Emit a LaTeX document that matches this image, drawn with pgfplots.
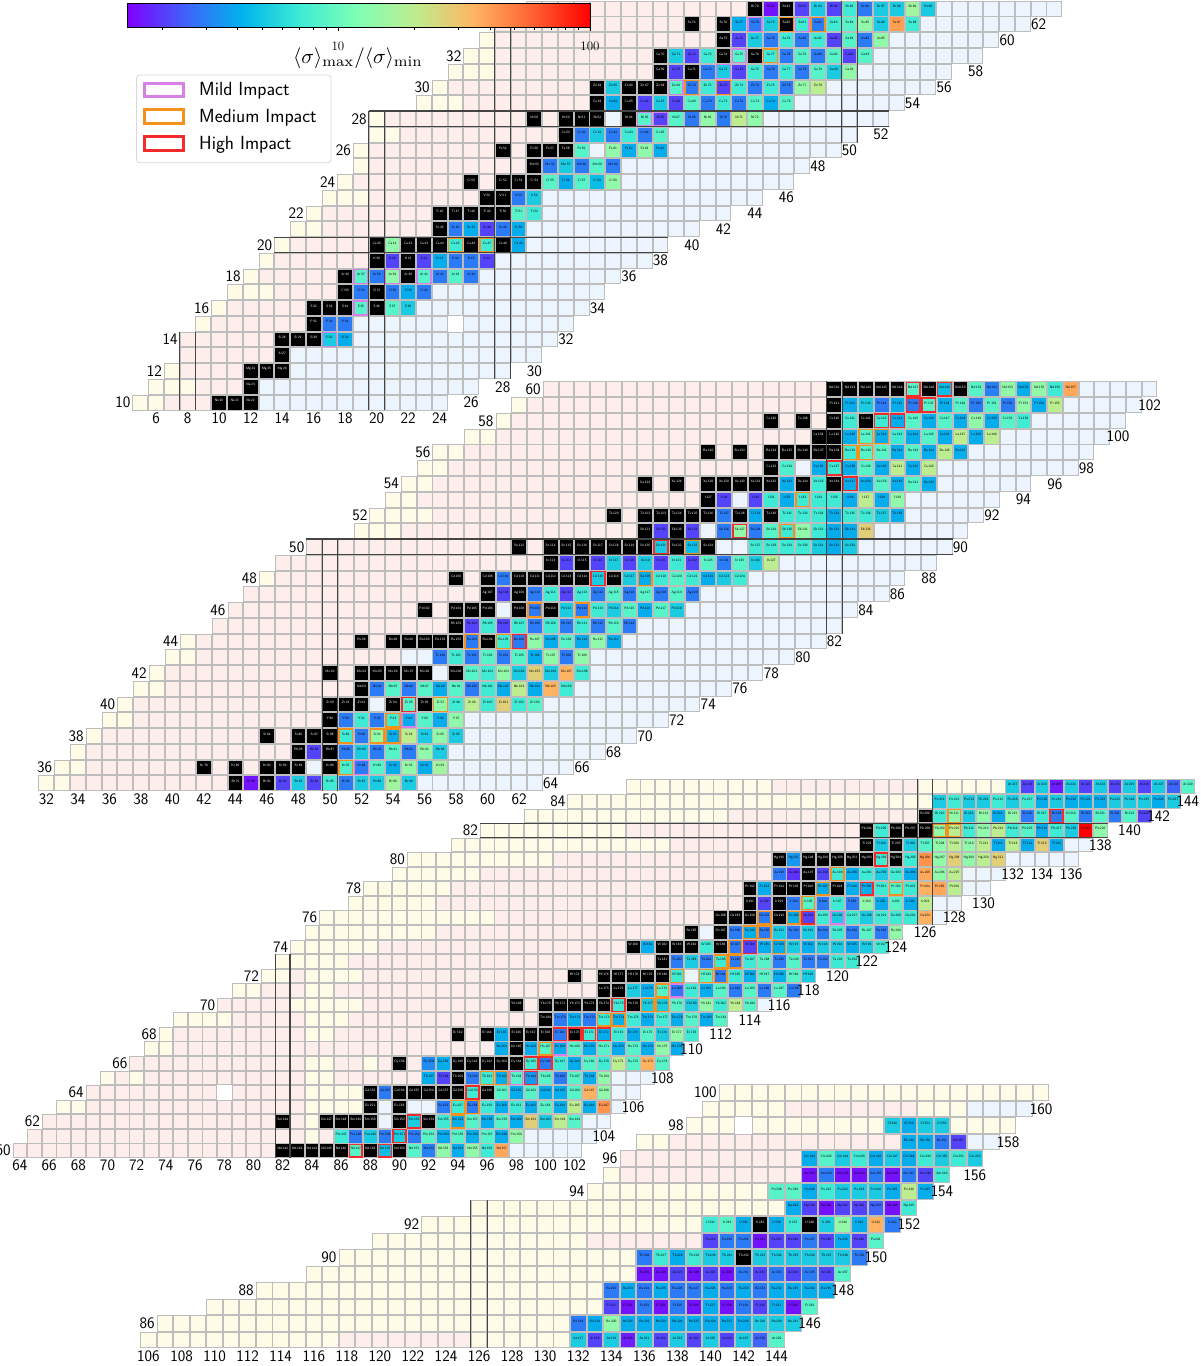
\documentclass[border=0pt]{standalone}
\usepackage{fontspec}
\usepackage{pgfplots}
\pgfplotsset{compat=1.18}
\definecolor{cg}{HTML}{BDBDBD}
\definecolor{cy}{HTML}{FEFBE6}
\definecolor{cp}{HTML}{FDEEEC}
\definecolor{cw}{HTML}{ECF4FD}
\definecolor{mag}{HTML}{444444}
\definecolor{mild}{HTML}{D87FE8}
\definecolor{med}{HTML}{F5921E}
\definecolor{high}{HTML}{F52A2A}
\pgfdeclarehorizontalshading{rb}{100bp}{rgb(0bp)=(.5,0,1);rgb(25bp)=(.5,0,1);rgb(31.25bp)=(.25,.383,.981);rgb(37.5bp)=(0,.707,.924);rgb(43.75bp)=(.25,.924,.831);rgb(50bp)=(.5,1,.707);rgb(56.25bp)=(.75,.924,.556);rgb(62.5bp)=(1,.707,.383);rgb(68.75bp)=(1,.383,.195);rgb(75bp)=(1,0,0);rgb(100bp)=(1,0,0)}
\def\hs{7.4}\def\hsb{6.9}
\pgfdeclareplotmark{cell}{\pgfpathrectanglecorners{\pgfqpoint{-\hs pt}{-\hs pt}}{\pgfqpoint{\hs pt}{\hs pt}}\pgfusepathqfillstroke}
\pgfdeclareplotmark{cellb}{\pgfpathrectanglecorners{\pgfqpoint{-\hsb pt}{-\hsb pt}}{\pgfqpoint{\hsb pt}{\hsb pt}}\pgfusepathqstroke}
\foreach \e [count=\i from 10] in {Ne,Na,Mg,Al,Si,P,S,Cl,Ar,K,Ca,Sc,Ti,V,Cr,Mn,Fe,Co,Ni,Cu,Zn,Ga,Ge,As,Se,Br,Kr,Rb,Sr,Y,Zr,Nb,Mo,Tc,Ru,Rh,Pd,Ag,Cd,In,Sn,Sb,Te,I,Xe,Cs,Ba,La,Ce,Pr,Nd,Pm,Sm,Eu,Gd,Tb,Dy,Ho,Er,Tm,Yb,Lu,Hf,Ta,W,Re,Os,Ir,Pt,Au,Hg,Tl,Pb,Bi,Po,At,Rn,Fr,Ra,Ac,Th,Pa,U,Np,Pu,Am,Cm,Bk,Cf,Es,Fm}{\expandafter\xdef\csname el\i\endcsname{\e}}
\def\celltext{\pgfmathtruncatemacro\zz{round(\Zv)}\pgfmathtruncatemacro\aa{round(\Nv+\Zv)}\csname el\zz\endcsname\,\aa}
\pgfplotsset{
 cellvis/.style={visualization depends on={x \as \Nv},visualization depends on={y \as \Zv},
  nodes near coords align=center,
  every node near coord/.append style={font=\sffamily\fontsize{3.4}{3.4}\selectfont,inner sep=0pt,anchor=center,yshift=2pt,text=#1}},
 bgy/.style={only marks,mark=cell,mark options={draw=cg,fill=cy,line width=.9pt}},
 bgp/.style={only marks,mark=cell,mark options={draw=cg,fill=cp,line width=.9pt}},
 bgw/.style={only marks,mark=cell,mark options={draw=cg,fill=cw,line width=.9pt}},
 xw/.style={only marks,mark=cell,mark options={draw=cg,fill=cw,line width=.9pt}},
 blk/.style={only marks,mark=cell,mark options={draw=cg,fill=black,line width=.9pt},cellvis=white,nodes near coords={\celltext}},
 hol/.style={only marks,mark=cell,mark options={draw=white,fill=white,line width=.9pt}},
 cols/.style={scatter,only marks,mark=cell,point meta=explicit,
  mark options={line width=.9pt},scatter/use mapped color={draw=cg,fill=mapped color},cellvis=black,nodes near coords*={\celltext}},
 bm/.style={only marks,mark=cellb,mark options={draw=#1,line width=1.4pt}},
 magic/.style={line width=1.1pt,color=mag,no markers},
 panel/.style={hide axis,scale only axis,clip=false,anchor=south west,enlargelimits=false,point meta min=0.163,point meta max=2,
  colormap={mplrb}{rgb=(.5,0,1) rgb=(.25,.383,.981) rgb=(0,.707,.924) rgb=(.25,.924,.831) rgb=(.5,1,.707) rgb=(.75,.924,.556) rgb=(1,.707,.383) rgb=(1,.383,.195) rgb=(1,0,0)}},
 p1/.style={panel,at={(61.5pt,884.6pt)},width=1103.2pt,height=551.6pt,xmin=0,xmax=70,ymin=5,ymax=40},
 p2/.style={panel,at={(-64pt,503.9pt)},width=1260.8pt,height=551.6pt,xmin=25,xmax=105,ymin=30,ymax=65},
 p3/.style={panel,at={(-38.5pt,142.5pt)},width=1314pt,height=509.6pt,xmin=60,xmax=150,ymin=55,ymax=90},
 p4/.style={panel,at={(49.3pt,-56.5pt)},width=1074.45pt,height=412.5pt,xmin=100,xmax=165,ymin=80,ymax=105},
}
\tikzset{lab/.style={font=\sffamily\fontsize{16}{16}\selectfont,inner sep=0pt,text=black}}
\newcount\nn
\newcommand\Reset{\gdef\LY{}\gdef\LP{}\gdef\LW{}\gdef\LC{}\gdef\LK{}\gdef\LX{}\gdef\LH{}}
\newcommand\R[5]{\nn=#2\relax\loop
 \ifnum\nn>#3\relax\ifnum\nn>#4\relax\xdef\LW{\LW(\the\nn,#1)}\else\xdef\LP{\LP(\the\nn,#1)}\fi\else\xdef\LY{\LY(\the\nn,#1)}\fi
 \advance\nn by 1\relax\ifnum\nn<\numexpr#5+1\relax\repeat}
\newcommand\C[3]{\global\nn=#2\relax\foreach \v in {#3}{%
 \ifdim\v pt<0pt\relax\ifdim\v pt<-2.5pt\relax\xdef\LH{\LH(\the\nn,#1)}\else\ifdim\v pt<-1.5pt\relax\xdef\LX{\LX(\the\nn,#1)}\fi\fi
 \else\ifdim\v pt=0pt\relax\xdef\LK{\LK(\the\nn,#1)}\else\pgfmathsetmacro\lv{log10(\v)}\xdef\LC{\LC(\the\nn,#1)[\lv]}\fi\fi
 \global\advance\nn by 1\relax}}
\newcommand\plotlist[2]{\edef\tmp{\noexpand\addplot[#1] coordinates {#2};}\tmp}
\newcommand\cells{\plotlist{bgy}{\LY}\plotlist{bgp}{\LP}\plotlist{bgw}{\LW}\plotlist{cols}{\LC}\plotlist{blk}{\LK}\plotlist{xw}{\LX}\plotlist{hol}{\LH}}
\newcommand\xl[2]{\node[lab] at (axis cs:#1,#2) {#1};}
\newcommand\yl[2]{\node[lab,anchor=east] at (axis cs:#2-0.62,#1) {#1};}
\begin{document}
\begin{tikzpicture}[x=1pt,y=1pt]
\useasboundingbox (0,0) rectangle (1200,1366);
% ---------- panel 4
\def\hs{7.8}\def\hsb{7.3}
\Reset
\R{85}{106}{117}{125}{125}\R{85}{126}{144}{144}{144}\R{86}{107}{145}{145}{145}\R{87}{110}{146}{146}{146}\R{88}{113}{147}{147}{147}
\R{89}{116}{148}{148}{148}\R{90}{118}{149}{149}{149}\R{91}{120}{132}{150}{150}\R{92}{123}{151}{151}{151}\R{93}{126}{152}{152}{152}
\R{94}{133}{153}{153}{153}\R{95}{134}{134}{154}{154}\R{96}{135}{134}{156}{156}\R{97}{136}{137}{155}{157}\R{98}{139}{158}{158}{158}
\R{99}{140}{144}{152}{152}\R{99}{153}{155}{155}{159}\R{100}{141}{160}{160}{160}
\C{85}{132}{5.2,2.1,5.2,1.7,5.2,2.1,5.2,2.1,5.2,2.1,5.2,2.5,8.6}
\C{86}{132}{2.9,4,14,4,4,4,4,4,4,4,4,5.2,5.2,5.2}
\C{87}{134}{2.1,1.6,2.9,1.6,2.9,1.6,4,1.6,2.9,2.1,4,1.6,8.6}
\C{88}{134}{2.9,4,2.9,4,2.9,2.9,4,2.9,4,2.9,4,4,4,4}
\C{89}{136}{1.6,1.6,2.1,1.6,2.1,1.6,2.9,2.1,2.9,2.1,2.9,2.1,8.6}
\C{90}{136}{2.9,7.1,4,7.1,5.2,5.2,0,5.2,5.2,5.2,5.2,5.2,5.2,2.9}
\C{91}{140}{2.1,2.9,2.9,1.6,2.1,2.1,2.9,2.1,4,2.1,8.6}
\C{92}{140}{7.1,8.6,4,0,4,7.1,0,5.2,14,4,35,2.9}
\C{93}{145}{4,2.1,1.6,2.1,2.1,2.5,1.6,7.1}
\C{94}{144}{8.6,9,4,7.1,5.2,5.2,5.2,4,20,4}
\C{95}{146}{1.6,2.9,1.6,1.6,2.9,1.6,2.9,2.1,7.1}
\C{96}{146}{4,8.6,5.2,7.1,4,5.2,4,7.1,5.2,7.1,5.2}
\C{97}{152}{4,4,2.9,2.1}
\C{98}{142}{-3}\C{98}{151}{5.2,4,5.2,5.2}
\begin{axis}[p4]
\cells
\end{axis}
\begin{axis}[p4]
\addplot[magic] coordinates {(125.5,84.5)(125.5,93.5)};
\addplot[magic] coordinates {(126.5,84.5)(126.5,93.5)};
\pgfplotsinvokeforeach{106,108,...,144}{\xl{#1}{84}}
\xl{146}{86}\xl{148}{88}\xl{150}{90}\xl{152}{92}\xl{154}{94}\xl{156}{95}\xl{158}{97}\xl{160}{99}
\yl{86}{107}\yl{88}{113}\yl{90}{118}\yl{92}{123}\yl{94}{133}\yl{96}{135}\yl{98}{139}\yl{100}{141}
\end{axis}
% ---------- panel 3
\def\hs{6.85}\def\hsb{6.4}
\Reset
\R{60}{64}{63}{97}{102}\R{61}{65}{64}{83}{83}\R{61}{84}{84}{98}{103}\R{62}{66}{65}{83}{83}\R{62}{84}{84}{102}{104}
\R{63}{67}{68}{83}{83}\R{63}{84}{87}{104}{105}\R{64}{69}{68}{83}{83}\R{64}{84}{87}{104}{106}
\R{65}{70}{70}{71}{71}\R{65}{72}{72}{83}{83}\R{65}{84}{85}{104}{107}\R{66}{72}{71}{83}{83}\R{66}{84}{85}{87}{87}\R{66}{88}{88}{108}{108}
\R{67}{73}{74}{109}{109}\R{68}{74}{74}{83}{83}\R{68}{84}{85}{110}{110}\R{69}{75}{78}{83}{83}\R{69}{84}{86}{112}{112}
\R{70}{78}{77}{82}{82}\R{70}{83}{87}{114}{115}\R{71}{79}{80}{83}{83}\R{71}{84}{85}{117}{117}\R{72}{81}{82}{83}{83}\R{72}{84}{87}{118}{118}
\R{73}{82}{86}{121}{121}\R{74}{83}{88}{123}{123}\R{75}{84}{92}{124}{124}\R{76}{85}{96}{126}{127}\R{77}{87}{92}{126}{128}
\R{78}{88}{93}{128}{130}\R{79}{90}{95}{128}{131}\R{80}{91}{100}{131}{136}\R{81}{94}{108}{135}{137}\R{82}{96}{105}{138}{138}
\R{83}{99}{112}{141}{141}\R{84}{102}{126}{143}{143}\R{85}{106}{115}{125}{125}\R{85}{126}{131}{144}{144}
\C{60}{82}{0,0,0,0,0,8.6,0,4.6,0,8.6,3,14,4,14,7.1,38}
\C{61}{86}{7.1,2.9,5.2,2.9,5.2,2.9,8.6,4,8.6,4,8.6,4,14}
\C{62}{82}{0,-1,-1,0,0,0,0,-2,0,5.2,0,7.1,4,8.6,4,8.6,4,27,5.2,20,8.6}
\C{63}{88}{0,-2,0,-2,-2,2.9,7.1,2.9,7.1,4,7.1,4,8.6,4,20,4,43}
\C{64}{78}{-3}\C{64}{88}{0,2.9,0,0,0,0,0,7.1,0,8.6,4,8.6,4,4,8.6,35,14}
\C{65}{92}{4,2.1,0,2.9,7.1,4,8.6,3.5,8.6,2.9,8.6,4,14}
\C{66}{90}{0,-1,3.2,4,0,0,0,0,0,7.1,2.9,7.1,4,8.6,7.1,20,8.6,35,8.6}
\C{67}{97}{4,0,4,8.6,4,8.6,4,8.6,4,8.6,4,14,4}
\C{68}{94}{0,-1,0,4,0,0,0,2.9,0,7.1,4,7.1,4,8.6,5.2,14,7.1}
\C{69}{100}{0,2.9,4,2.9,7.1,4,7.1,4,7.1,4,8.6,4,8.6}
\C{70}{98}{0,-1,0,0,0,0,0,7.1,0,5.2,5.2,8.6,5.2,14,7.1,20,8.6,-2}
\C{71}{104}{0,0,5.2,4,8.6,2.9,7.1,4,8.6,2.9,8.6,2.9,8.6,2.9}
\C{72}{102}{0,-1,0,0,0,0,0,7.1,-2,8.6,2.9,7.1,4,8.6,4,8.6,5.2}
\C{73}{108}{0,2.9,5.2,2.9,7.1,2.9,7.1,8.6,2.9,8.6,2.9,2.9,7.1,7.1}
\C{74}{106}{0,4,0,0,0,7.1,0,2.9,2.1,4,4,5.2,4,5.2,5.2,4,5.2,7.1}
\C{75}{110}{0,-2,0,2.9,4,2.9,5.2,2.9,5.2,2.9,7.1,2.9,8.6,2.9,14}
\C{76}{112}{0,0,0,2.9,0,4,2.1,7.1,5.2,7.1,5.2,7.1,7.1,7.1,35}
\C{77}{114}{0,2.1,0,2.9,8.6,2.9,7.1,2.9,14,4,8.6,4,20}
\C{78}{114}{0,4,0,0,0,4,0,4,4,7.1,8.6,7.1,35,38,20}
\C{79}{116}{2.9,1.9,0,2.1,7.1,4,7.1,5.2,7.1,4,38,14,20}
\C{80}{116}{0,3.5,0,0,0,0,0,7.1,0,7.1,43,14,27,14,20,27}
\C{81}{122}{0,5.2,0,5.2,8.6,14,20,14,20,4,20,4,27,4}
\C{82}{122}{0,7.1,0,0,0,14,20,7.1,14,20,7.1,8.6,4,7.1,5.2,100,14}
\C{83}{126}{0,7.1,14,5.2,14,4,14,2.9,7.1,2.9,8.6,2.9,8.6,2.9,8.6,2.1}
\C{84}{127}{5.2,7.1,5.2,5.2,7.1,5.2,7.1,4,5.2,4,4,4,5.2,5.2,5.2,4,5.2}
\C{85}{132}{5.2,2.1,5.2,1.7,5.2,2.1,5.2,2.1,5.2,2.1,5.2,2.5,8.6}
\begin{axis}[p3]
\cells
\addplot[bm=mild] coordinates {(98,65)(101,67)(109,71)(120,76)};
\addplot[bm=med] coordinates {(94,62)(94,63)(95,63)(96,65)(97,65)(100,67)(104,69)(105,69)(107,70)(108,70)(108,71)(109,72)(111,72)(112,72)(112,73)(113,73)(113,74)(116,74)(114,75)(115,75)(115,76)(117,76)(118,77)(119,78)(124,78)(120,79)(127,82)(128,82)(128,83)};
\addplot[bm=high] coordinates {(87,60)(89,60)(90,61)(91,62)(95,64)(99,65)(99,66)(100,66)(101,68)(102,68)(103,68)(104,68)(105,70)(114,74)(118,76)(122,78)(123,80)(135,83)};
\end{axis}
\begin{axis}[p3]
\addplot[magic] coordinates {(81.5,59.5)(81.5,73.5)};\addplot[magic] coordinates {(82.5,59.5)(82.5,73.5)};
\addplot[magic] coordinates {(125.5,75.5)(125.5,85.5)};\addplot[magic] coordinates {(126.5,75.5)(126.5,85.5)};
\addplot[magic] coordinates {(95.5,81.5)(138.5,81.5)};\addplot[magic] coordinates {(95.5,82.5)(138.5,82.5)};
\pgfplotsinvokeforeach{64,66,...,102}{\xl{#1}{59}}
\xl{104}{61}\xl{106}{63}\xl{108}{65}\xl{110}{67}\xl{112}{68}\xl{114}{69}\xl{116}{70}\xl{118}{71}\xl{120}{72}\xl{122}{73}\xl{124}{74}\xl{126}{75}\xl{128}{76}\xl{130}{77}\xl{132}{79}\xl{134}{79}\xl{136}{79}\xl{138}{81}\xl{140}{82}\xl{142}{83}\xl{144}{84}
\yl{60}{64}\yl{62}{66}\yl{64}{69}\yl{66}{72}\yl{68}{74}\yl{70}{78}\yl{72}{81}\yl{74}{83}\yl{76}{85}\yl{78}{88}\yl{80}{91}\yl{82}{96}\yl{84}{102}
\end{axis}
% ---------- panel 2
\def\hs{7.4}\def\hsb{6.9}
\Reset
\R{35}{32}{33}{55}{63}\R{36}{33}{34}{57}{65}\R{37}{34}{34}{57}{67}\R{38}{35}{35}{58}{69}\R{39}{36}{37}{58}{71}\R{40}{37}{37}{63}{73}
\R{41}{38}{39}{65}{75}\R{42}{39}{39}{66}{77}\R{43}{40}{41}{66}{79}\R{44}{41}{41}{68}{81}\R{45}{43}{42}{69}{82}\R{46}{44}{43}{72}{83}
\R{47}{45}{44}{73}{85}\R{48}{46}{46}{76}{86}\R{49}{47}{46}{78}{88}\R{50}{49}{48}{83}{89}\R{51}{52}{54}{84}{90}\R{52}{53}{56}{86}{91}
\R{53}{54}{55}{86}{92}\R{54}{55}{56}{88}{94}\R{55}{56}{57}{88}{97}\R{56}{57}{58}{90}{98}\R{57}{59}{60}{92}{99}\R{58}{61}{61}{94}{100}
\R{59}{62}{62}{96}{101}\R{60}{64}{63}{97}{102}
\C{35}{44}{0,1.6,0,2.1,5.2,2.1,7.1,2.9,5.2,5.2,16,5.2}
\C{36}{42}{0,-1,0,-1,0,0,0,-2,0,8,2.9,8.6,4,14,4,16}
\C{37}{48}{0,2.1,0,2.9,5.2,2.9,8.6,2.9,14,5.2}
\C{38}{46}{0,-1,0,0,0,7.1,2.9,14,4,20,5.2,14,5.2}
\C{39}{50}{0,2.9,7.1,2.9,7.1,4,8.6,4,14}
\C{40}{50}{0,0,0,-2,0,8.6,0,14,7.1,20,7.1,27,7.1,8.6}
\C{41}{52}{0,2.9,8.6,2.9,8.6,4,8.6,2.9,7.1,4,20,4,35,7.1}
\C{42}{50}{0,-1,0,0,0,0,0,-2,0,8.6,7.1,14,5.2,27,5.2,35,7.1}
\C{43}{55}{-2,-2,2.9,7.1,2.9,8.6,2.9,8.6,4,14,2.9,14}
\C{44}{52}{0,-1,0,0,0,0,0,2.9,0,7.1,2.9,14,4,8.6,4,14,4}
\C{45}{58}{0,2.1,7.1,2.1,7.1,2.9,7.1,2.9,7.1,2.9,8.6,2.9}
\C{46}{56}{0,-1,0,0,0,-2,0,2.9,0,5.2,2.9,7.1,5.2,8.6,4,8.6,5.2}
\C{47}{60}{0,2.1,0,2.9,7.1,2.1,7.1,2.9,8.6,2.9,8.6,2.9,8.6,2.9}
\C{48}{58}{0,-1,0,2.9,0,0,0,0,0,5.2,0,5.2,4,7.1,8.6,7.1,4,5.2,7.1}
\C{49}{64}{0,2.1,0,2.1,5.2,2.1,5.2,2.1,7.1,2.1,8.6,2.9,8.6,5.2,20}
\C{50}{62}{0,-1,0,0,0,0,0,0,0,5.2,0,4.6,0,-2,-2,7.1,7.1,7.1,7.1,5.2,4,5.2}
\C{51}{70}{0,2.1,0,2.1,-2,2.9,14,2.9,8.6,7.1,14,7.1,4,4,27}
\C{52}{68}{0,-1,0,0,0,0,0,2.9,0,4,0,7.1,7.1,7.1,4,7.1,7.1,5.2,4}
\C{53}{74}{0,2.1,-2,2.1,7.1,4,7.1,7.1,7.1,4,20,4,14}
\C{54}{70}{0,-1,0,-1,0,0,0,0,0,4,0,7.1,0,4,4,8.6,4,8.6,4}
\C{55}{78}{0,8,-2,4,7.1,4,8.6,4,20,4,20}
\C{56}{74}{0,-1,0,-1,0,0,0,0,0,7.1,8.6,8.6,4,8.6,4,20,4}
\C{57}{81}{0,0,4,8.6,4,7.1,4,8.6,4,20,4,20}
\C{58}{78}{0,-1,0,-1,0,7.1,0,7.1,4,8.6,4,8.6,4,14,4,8.6,7.1}
\C{59}{82}{0,4,5.2,2.9,4,2.9,8.6,4,8.6,2.9,8.6,2.9,14,4,20}
\C{60}{82}{0,0,0,0,0,8.6,0,4.6,0,8.6,3,14,4,14,7.1,38}
\begin{axis}[p2]
\cells
\addplot[bm=mild] coordinates {(52,36)(55,39)};
\addplot[bm=med] coordinates {(51,36)(51,38)(53,38)(54,38)(54,39)(57,40)(59,44)(61,44)(63,46)(66,46)(70,48)(73,50)(79,51)(80,53)(83,56)(84,56)(84,57)(85,57)};
\addplot[bm=high] coordinates {(55,40)(62,44)(67,48)(71,50)(76,51)(83,54)(82,55)(85,58)(86,58)(87,59)(88,59)(87,60)(89,60)};
\end{axis}
\begin{axis}[p2]
\addplot[magic] coordinates {(49.5,34.5)(49.5,50.5)};\addplot[magic] coordinates {(50.5,34.5)(50.5,50.5)};
\addplot[magic] coordinates {(81.5,44.5)(81.5,60.5)};\addplot[magic] coordinates {(82.5,44.5)(82.5,60.5)};
\addplot[magic] coordinates {(48.5,49.5)(89.5,49.5)};\addplot[magic] coordinates {(48.5,50.5)(89.5,50.5)};
\pgfplotsinvokeforeach{32,34,...,62}{\xl{#1}{34}}
\xl{64}{35}\xl{66}{36}\xl{68}{37}\xl{70}{38}\xl{72}{39}\xl{74}{40}\xl{76}{41}\xl{78}{42}\xl{80}{43}\xl{82}{44}\xl{84}{46}\xl{86}{47}\xl{88}{48}\xl{90}{50}\xl{92}{52}\xl{94}{53}\xl{96}{54}\xl{98}{55}\xl{100}{57}\xl{102}{59}
\yl{36}{33}\yl{38}{35}\yl{40}{37}\yl{42}{39}\yl{44}{41}\yl{46}{44}\yl{48}{46}\yl{50}{49}\yl{52}{53}\yl{54}{55}\yl{56}{57}\yl{58}{61}\yl{60}{64}
\end{axis}
% ---------- panel 1
\Reset
\R{10}{5}{6}{12}{24}\R{11}{6}{8}{12}{26}\R{12}{7}{7}{14}{28}\R{13}{8}{7}{14}{30}\R{14}{8}{7}{18}{31}\R{15}{9}{9}{18}{32}\R{16}{10}{10}{22}{33}
\R{17}{11}{13}{23}{34}\R{18}{12}{12}{26}{35}\R{19}{13}{13}{26}{37}\R{20}{14}{14}{29}{38}\R{21}{15}{16}{29}{40}\R{22}{16}{16}{30}{42}\R{23}{17}{19}{30}{44}
\R{24}{18}{18}{35}{46}\R{25}{19}{19}{35}{47}\R{26}{19}{19}{38}{49}\R{27}{20}{21}{38}{50}\R{28}{20}{20}{44}{52}\R{29}{23}{25}{46}{53}\R{30}{24}{24}{48}{55}
\R{31}{25}{27}{50}{56}\R{32}{26}{27}{51}{58}\R{33}{27}{27}{52}{59}\R{34}{28}{27}{54}{61}\R{35}{30}{29}{55}{63}
\C{10}{10}{0,0,0}\C{11}{12}{0}\C{12}{12}{0,0,0}\C{13}{14}{0}\C{14}{14}{0,0,0,5.2,4}
\C{15}{16}{0,2.9,2.9}\C{15}{25}{-3}
\C{16}{16}{0,0,0,8.6,0,8.6,5.2}
\C{17}{18}{0,2.9,0,2.9,4,2.9}
\C{18}{18}{0,8.6,2.9,14,0,8.6,2.9,8.6,2.9}
\C{19}{20}{0,2.1,0,2.1,4,2.9,2.9,2.1}
\C{20}{20}{0,14,0,0,0,7.1,0,7.1,0,4}
\C{21}{24}{0,2.9,4,2.1,2.9,4}
\C{22}{24}{0,0,0,0,0,8.6,7.1}
\C{23}{27}{0,0,2.9,5.2}
\C{24}{26}{0,-1,0,0,0,8.6,4,8.6,4.6,14}
\C{25}{30}{0,2.9,5.2,2.9,8.6,2.9}
\C{26}{28}{0,-1,0,0,0,8.6,-2,14,4,14,4}
\C{27}{32}{0,2.9,5.2,2.9,7.1,2.9,8.6}
\C{28}{30}{0,-1,0,0,0,-2,0,8.6,2.1,8.6,2.9,14,2.9,20,14}
\C{29}{34}{0,4,0,2.1,5.2,2.1,8.6,2.9,7.1,2.9,8.6,4,8.6}
\C{30}{34}{0,5.2,0,0,0,8.6,2.9,7.1,2.1,7.1,2.9,7.1,2.9,14,20}
\C{31}{38}{0,2.1,0,2.9,5.2,2.1,7.1,2.9,7.1,2.9,8.6,5.2,14}
\C{32}{38}{0,5.2,2.1,7.1,0,8.6,0,7.1,2.9,8.6,2.9,8.6,2.1,8.6}
\C{33}{42}{0,2.1,5.2,2.9,7.1,2.9,7.1,2.1,8.6,2.9,14}
\C{34}{40}{0,-1,0,4,2.9,5.2,0,7.1,2.9,7.1,8.6,14,5.2,40,7.1}
\C{35}{44}{0,1.6,0,2.1,5.2,2.1,7.1,2.9,5.2,5.2,16,5.2}
\begin{axis}[p1]
\cells
\addplot[bm=mild] coordinates {(17,14)(19,16)(19,18)(21,18)(23,18)(37,28)(38,28)(39,30)(42,31)(43,32)(44,34)(47,34)};
\addplot[bm=med] coordinates {(25,20)(27,20)(40,30)(42,30)(45,32)(46,34)(48,34)};
\end{axis}
\begin{axis}[p1]
\addplot[magic] coordinates {(7.5,9.5)(7.5,14.5)};\addplot[magic] coordinates {(8.5,9.5)(8.5,14.5)};
\addplot[magic] coordinates {(19.5,9.5)(19.5,28.5)};\addplot[magic] coordinates {(20.5,9.5)(20.5,28.5)};
\addplot[magic] coordinates {(27.5,11.5)(27.5,34.5)};\addplot[magic] coordinates {(28.5,11.5)(28.5,34.5)};
\addplot[magic] coordinates {(49.5,26.5)(49.5,35.5)};\addplot[magic] coordinates {(50.5,26.5)(50.5,35.5)};
\addplot[magic] coordinates {(13.5,19.5)(38.5,19.5)};\addplot[magic] coordinates {(13.5,20.5)(38.5,20.5)};
\addplot[magic] coordinates {(19.5,27.5)(52.5,27.5)};\addplot[magic] coordinates {(19.5,28.5)(52.5,28.5)};
\pgfplotsinvokeforeach{6,8,...,24}{\xl{#1}{9}}
\xl{26}{10}\xl{28}{11}\xl{30}{12}\xl{32}{14}\xl{34}{16}\xl{36}{18}\xl{38}{19}\xl{40}{20}\xl{42}{21}\xl{44}{22}\xl{46}{23}\xl{48}{25}\xl{50}{26}\xl{52}{27}\xl{54}{29}\xl{56}{30}\xl{58}{31}\xl{60}{33}\xl{62}{34}
\yl{10}{5}\yl{12}{7}\yl{14}{8}\yl{16}{10}\yl{18}{12}\yl{20}{14}\yl{22}{16}\yl{24}{18}\yl{26}{19}\yl{28}{20}\yl{30}{24}\yl{32}{26}
\end{axis}
% ---------- colour bar
\begin{axis}[at={(127pt,1338pt)},anchor=south west,scale only axis,width=463pt,height=24pt,xmode=log,xmin=1.456,xmax=100,ymin=0,ymax=1,
 axis background/.style={shade,shading=rb},ytick=\empty,xtick={10,100},xticklabels={10,100},
 minor xtick={2,3,4,5,6,7,8,9,20,30,40,50,60,70,80,90},tick align=outside,tick pos=bottom,major tick length=3pt,minor tick length=2pt,
 axis line style={line width=1pt},xticklabel style={font=\fontsize{13}{13}\selectfont,yshift=-7pt},every tick/.style={black}]
\addplot[draw=none] coordinates {(2,0.5)(90,0.5)};
\end{axis}
\node[scale=2.1] at (358,1308) {$\langle\sigma\rangle_{\mathrm{max}}/\langle\sigma\rangle_{\mathrm{min}}$};
% ---------- legend
\draw[draw=black!15,fill=white,line width=.8pt,rounded corners=3pt] (136.6,1291) rectangle (331,1203.3);
\draw[mild,line width=3pt] (144,1282.8) rectangle (183,1269.2);
\draw[med,line width=3pt] (144,1256.5) rectangle (183,1242.5);
\draw[high,line width=3pt] (144,1229.5) rectangle (183,1215.5);
\node[anchor=west,inner sep=0pt,font=\sffamily\fontsize{19}{19}\selectfont] at (199,1275.5) {Mild Impact};
\node[anchor=west,inner sep=0pt,font=\sffamily\fontsize{19}{19}\selectfont] at (199,1248.5) {Medium Impact};
\node[anchor=west,inner sep=0pt,font=\sffamily\fontsize{19}{19}\selectfont] at (199,1221.5) {High Impact};
\end{tikzpicture}
\end{document}
